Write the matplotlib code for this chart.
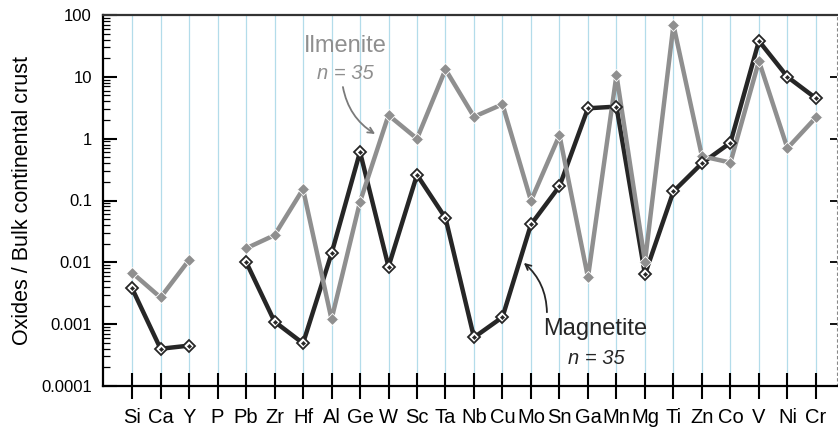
import numpy as np
import matplotlib.pyplot as plt
from matplotlib.ticker import LogLocator, NullFormatter, FixedLocator

plt.rcParams['font.family'] = ['Liberation Sans', 'DejaVu Sans']

# ---- data ----
elements = ["Si", "Ca", "Y", "P", "Pb", "Zr", "Hf", "Al", "Ge", "W", "Sc", "Ta", "Nb",
            "Cu", "Mo", "Sn", "Ga", "Mn", "Mg", "Ti", "Zn", "Co", "V", "Ni", "Cr"]

magnetite = [0.0038, 0.0004, 0.00045, np.nan, 0.0102, 0.0011, 0.00049, 0.0139, 0.61,
             0.0085, 0.26, 0.052, 0.00061, 0.0013, 0.041, 0.17, 3.1, 3.3, 0.0064,
             0.14, 0.40, 0.86, 38, 10, 4.5]

ilmenite = [0.0068, 0.0027, 0.0109, np.nan, 0.0168, 0.0275, 0.153, 0.0012, 0.095,
            2.4, 1.0, 13.2, 2.26, 3.6, 0.099, 1.14, 0.0057, 10.7, 0.0102,
            69, 0.52, 0.41, 18, 0.70, 2.2]

dark = "#262626"
grey = "#8f8f8f"

fig = plt.figure(figsize=(8.38, 4.37), dpi=100)
ax = fig.add_axes([103/838, 1 - 386/437, (837 - 103)/838, (386 - 15)/437])

x = np.arange(len(elements))

# vertical light-blue guides at every element
for xi in x:
    ax.axvline(xi, color="#b3dcea", lw=0.9, zorder=0)

# lines
ax.plot(x, magnetite, color=dark, lw=3.2, zorder=2, solid_capstyle="round")
ax.plot(x, ilmenite, color=grey, lw=3.2, zorder=3, solid_capstyle="round")
# markers
ax.plot(x, ilmenite, ls="none", marker="D", ms=5.8, mfc=grey, mec="white",
        mew=0.6, zorder=4)
ax.plot(x, magnetite, ls="none", marker="D", ms=6.2, mfc="white", mec=dark,
        mew=1.3, zorder=5)
ax.plot(x, magnetite, ls="none", marker="D", ms=2.2, mfc=dark, mec=dark,
        mew=0.3, zorder=6)

ax.set_yscale("log")
ax.set_ylim(1e-4, 100)
ax.set_xlim(-1.02, 24.74)

ax.set_xticks(x)
ax.set_xticklabels(elements, fontsize=14.5)
ax.tick_params(axis="x", direction="inout", length=19, width=1.5, pad=6,
               color="black")

ax.yaxis.set_major_locator(FixedLocator([1e-4, 1e-3, 1e-2, 1e-1, 1, 10, 100]))
ax.set_yticklabels(["0.0001", "0.001", "0.01", "0.1", "1", "10", "100"])
ax.yaxis.set_minor_locator(LogLocator(base=10, subs=np.arange(2, 10)))
ax.yaxis.set_minor_formatter(NullFormatter())
ax.tick_params(axis="y", which="major", direction="in", length=10, width=1.5,
               labelsize=12, pad=8)
ax.tick_params(axis="y", which="minor", direction="in", length=5, width=0.9)

ax.set_ylabel("Oxides / Bulk continental crust", fontsize=15.5, labelpad=6)

for side in ["left", "bottom"]:
    ax.spines[side].set_linewidth(1.6)
    ax.spines[side].set_color("black")
ax.spines["top"].set_linewidth(1.6)
ax.spines["top"].set_color("#333333")
ax.spines["right"].set_linestyle((0, (2, 3)))
ax.spines["right"].set_linewidth(0.8)
ax.spines["right"].set_color("#888888")

# right-hand short ticks
ax2 = ax.twinx()
ax2.set_yscale("log")
ax2.set_ylim(ax.get_ylim())
ax2.yaxis.set_major_locator(FixedLocator([1e-3, 1e-2, 1e-1, 1, 10]))
ax2.yaxis.set_minor_locator(FixedLocator([]))
ax2.set_yticklabels([])
ax2.tick_params(axis="y", direction="in", length=5, width=1.3, color="black")
for s in ax2.spines.values():
    s.set_visible(False)

# labels and arrows
ax.text(7.47, 31.5, "Ilmenite", color=grey, fontsize=17, ha="center", va="center")
ax.text(7.47, 11.5, "n = 35", color=grey, fontsize=14.5, style="italic",
        ha="center", va="center")
ax.annotate("", xy=(8.53, 1.19), xytext=(7.40, 6.84),
            arrowprops=dict(arrowstyle="->", color="#7a7a7a", lw=1.3,
                            connectionstyle="arc3,rad=0.22",
                            shrinkA=0, shrinkB=0))

ax.text(16.25, 0.00083, "Magnetite", color=dark, fontsize=17, ha="center", va="center")
ax.text(16.28, 0.00028, "n = 35", color=dark, fontsize=14.5, style="italic",
        ha="center", va="center")
ax.annotate("", xy=(13.75, 0.0098), xytext=(14.56, 0.00156),
            arrowprops=dict(arrowstyle="->", color=dark, lw=1.3,
                            connectionstyle="arc3,rad=0.22",
                            shrinkA=0, shrinkB=0))

fig.savefig("out.png", dpi=100)
